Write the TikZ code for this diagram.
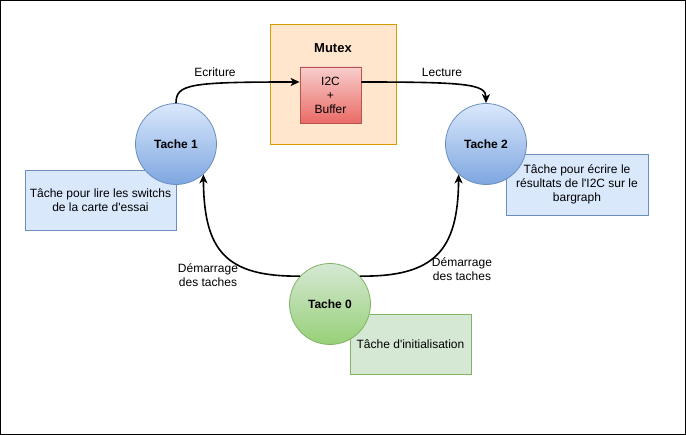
\documentclass[tikz,border=0pt]{standalone}
\usepackage{fontspec}
\setmainfont{Liberation Sans}
\usetikzlibrary{arrows.meta}
\definecolor{mfill}{HTML}{FFE6CC}
\definecolor{mline}{HTML}{D79B00}
\definecolor{rtop}{HTML}{F8CECC}
\definecolor{rbot}{HTML}{EA6B66}
\definecolor{rline}{HTML}{B85450}
\definecolor{btop}{HTML}{DAE8FC}
\definecolor{bbot}{HTML}{7EA6E0}
\definecolor{bline}{HTML}{6C8EBF}
\definecolor{gtop}{HTML}{D5E8D4}
\definecolor{gbot}{HTML}{97D077}
\definecolor{gline}{HTML}{82B366}
\tikzset{
  txt/.style={font=\fontsize{12}{14}\selectfont, align=center, inner sep=0pt},
  bold/.style={font=\fontsize{13}{15}\selectfont\bfseries, align=center, inner sep=0pt},
  task/.style={circle, minimum size=81pt, inner sep=0pt, line width=0.8pt, font=\fontsize{12}{14}\selectfont\bfseries},
  bluetask/.style={task, draw=bline, top color=btop, bottom color=bbot},
  greentask/.style={task, draw=gline, top color=gtop, bottom color=gbot},
  bluenote/.style={rectangle, draw=bline, fill=btop, line width=0.8pt, inner sep=0pt, align=center, font=\fontsize{12}{14}\selectfont},
  greennote/.style={rectangle, draw=gline, fill=gtop, line width=0.8pt, inner sep=0pt, align=center, font=\fontsize{12}{14}\selectfont},
  edge/.style={draw=black, line width=1.6pt, -{Stealth[length=9pt,width=8pt,inset=2.5pt]}},
}
\begin{document}
\begin{tikzpicture}[x=1pt,y=-1pt]
\useasboundingbox (0,0) rectangle (686,435);
\draw[line width=0.8pt] (0.5,0.5) rectangle (685.5,434.5);
% Mutex
\node[rectangle, draw=mline, fill=mfill, line width=0.8pt, minimum width=126pt, minimum height=120pt, inner sep=0pt] (mutex) at (333,84) {};
\node[bold] (mutexlbl) at (333,48) {Mutex};
\node[rectangle, draw=rline, top color=rtop, bottom color=rbot, line width=0.8pt, minimum width=61pt, minimum height=56pt, inner sep=0pt, txt] (i2c) at (330.5,95) {I2C\\+\\Buffer};
% notes
\node[bluenote, minimum width=151pt, minimum height=60pt] (n1) at (100.5,200) {Tâche pour lire les switchs\\de la carte d\textquotesingle essai};
\node[bluenote, minimum width=142pt, minimum height=61pt] (n2) at (577,184.5) {Tâche pour écrire le\\résultats de l\textquotesingle I2C sur le\\bargraph};
\node[greennote, minimum width=121pt, minimum height=60pt] (n0) at (410.5,344) {};
% tasks
\node[bluetask] (t1) at (176,144) {Tache 1};
\node[bluetask] (t2) at (486,144) {Tache 2};
\node[greentask] (t0) at (330,304) {Tache 0};
\node[txt] (n0t) at (410.5,344) {Tâche d\textquotesingle initialisation};
% edge labels
\node[txt] (lecr) at (215,72) {Ecriture};
\node[txt] (llec) at (442,72) {Lecture};
\node[txt] (ld1) at (208,275.5) {Démarrage\\des taches};
\node[txt] (ld2) at (462,269) {Démarrage\\des taches};
% edges
\draw[edge] (t1.north) .. controls (176,84) and (190,82) .. ([yshift=13pt]i2c.west);
\draw[edge] ([yshift=13pt]i2c.east) .. controls (465,82) and (486,84) .. (t2.north);
\draw[edge] (t0.137) .. controls (225,277) and (204,250) .. (t1.-48);
\draw[edge] (t0.43) .. controls (435,277) and (458,250) .. (t2.-132);
\end{tikzpicture}
\end{document}
